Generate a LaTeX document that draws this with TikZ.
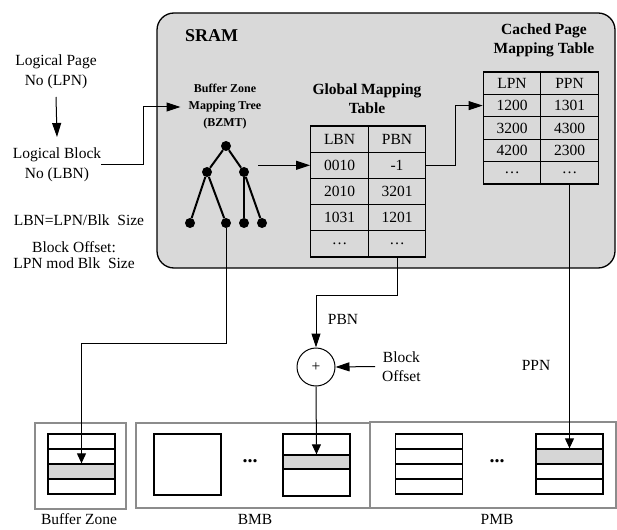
\documentclass[tikz,border=0pt]{standalone}
\usepackage{fontspec}
\setmainfont{Liberation Serif}
\usetikzlibrary{arrows.meta}
\definecolor{sramfill}{HTML}{D9D9D9}
\definecolor{boxgray}{HTML}{8C8C8C}
\definecolor{cellgray}{HTML}{D6D6D6}
\begin{document}
\begin{tikzpicture}[x=1pt,y=-1pt,
  txt/.style={font=\fontsize{15.5}{20}\selectfont, inner sep=0pt, align=center},
  hdr/.style={font=\fontsize{15.5}{19}\selectfont\bfseries, inner sep=0pt, align=center},
  smallhdr/.style={font=\fontsize{12}{17}\selectfont\bfseries, inner sep=0pt, align=center},
  bigarrow/.style={-{Triangle[length=14pt,width=9pt]}, line width=1pt},
  smallarrow/.style={-{Triangle[length=10pt,width=9pt]}, line width=1pt},
  branch/.style={line width=2pt},
  treedot/.style={circle, fill=black, inner sep=0pt, minimum size=10pt},
  gcell/.style={draw, line width=1.3pt, inner sep=0pt, minimum width=57.5pt, minimum height=26.2pt, font=\fontsize{15.5}{18}\selectfont},
  ccell/.style={draw, line width=1.3pt, inner sep=0pt, minimum width=57.5pt, minimum height=22.4pt, font=\fontsize{15.5}{18}\selectfont},
  outerbox/.style={draw=boxgray, line width=1.3pt, inner sep=0pt},
  slot/.style={draw, line width=1.3pt, inner sep=0pt, minimum width=67pt, minimum height=15pt},
  blk/.style={draw, line width=1.3pt, inner sep=0pt, minimum width=67pt},
  ellip/.style={font=\fontsize{20}{20}\selectfont\bfseries, inner sep=0pt},
]
\useasboundingbox (0,0) rectangle (617,529);

% SRAM region
\draw[fill=sramfill, line width=1.3pt, rounded corners=17pt] (157,13) rectangle (615,268);
\node[font=\fontsize{18}{20}\selectfont\bfseries, anchor=west, inner sep=0pt] (sram) at (185,36) {SRAM};

% address translation notes on the left
\node[txt] (lpn) at (56,72) {Logical Page\\No (LPN)};
\node[txt] (lbn) at (57,164.5) {Logical Block\\No (LBN)};
\node[txt] (lbnform) at (79,220) {LBN=LPN/Blk~ Size};
\node[txt, font=\fontsize{15.5}{16}\selectfont] (offform) at (74,255) {Block Offset:\\LPN mod Blk~ Size};
\draw[bigarrow] (lpn.south |- 0,97) -- (lbn.north |- 0,137);

% buffer zone mapping tree
\node[smallhdr] (bzmt) at (225,107) {Buffer Zone\\Mapping Tree\\(BZMT)};
\node[treedot] (root) at (226,146) {};
\node[treedot] (lc) at (207,172) {};
\node[treedot] (rc) at (244,172) {};
\node[treedot] (l1) at (190,223) {};
\node[treedot] (l2) at (226,223) {};
\node[treedot] (l3) at (244,223) {};
\node[treedot] (l4) at (262,223) {};
\draw[branch] (root) -- (lc);
\draw[branch] (root) -- (rc);
\draw[branch] (lc) -- (l1);
\draw[branch] (lc) -- (l2);
\draw[branch] (rc) -- (l3);
\draw[branch] (rc) -- (l4);
\draw[bigarrow] (lbn.east) -- (143,164.5) -- (143,107) -- ([xshift=-8pt]bzmt.west);

% global mapping table
\node[hdr] (gtitle) at (367,99) {Global Mapping\\Table};
\node[gcell] (g11) at (339.5,139.1) {LBN};
\node[gcell] (g12) at (397,139.1) {PBN};
\node[gcell] (g21) at (339.5,165.3) {0010};
\node[gcell] (g22) at (397,165.3) {-1};
\node[gcell] (g31) at (339.5,191.5) {2010};
\node[gcell] (g32) at (397,191.5) {3201};
\node[gcell] (g41) at (339.5,217.7) {1031};
\node[gcell] (g42) at (397,217.7) {1201};
\node[gcell] (g51) at (339.5,243.9) {\dots};
\node[gcell] (g52) at (397,243.9) {\dots};
\draw[bigarrow] ([xshift=9pt]rc.east |- g21.west) -- (g21.west);

% cached page mapping table
\node[hdr] (ctitle) at (544,40) {Cached Page\\Mapping Table};
\node[ccell] (c11) at (512,83.2) {LPN};
\node[ccell] (c12) at (569.5,83.2) {PPN};
\node[ccell] (c21) at (512,105.6) {1200};
\node[ccell] (c22) at (569.5,105.6) {1301};
\node[ccell] (c31) at (512,128) {3200};
\node[ccell] (c32) at (569.5,128) {4300};
\node[ccell] (c41) at (512,150.4) {4200};
\node[ccell] (c42) at (569.5,150.4) {2300};
\node[ccell] (c51) at (512,172.8) {\dots};
\node[ccell] (c52) at (569.5,172.8) {\dots};
\draw[bigarrow] (g22.east) -- ++(29,0) |- (c21.west);

% block offset adder
\node[circle, draw, line width=1pt, minimum size=38pt, inner sep=0pt, font=\fontsize{15.5}{18}\selectfont] (plus) at (316,367) {+};
\node[txt, font=\fontsize{15.5}{19}\selectfont, anchor=west] (boff) at (382,366.5) {Block\\Offset};
\node[txt] (pbnlbl) at (343,319) {PBN};
\node[txt] (ppnlbl) at (536,365) {PPN};
\draw[bigarrow] (g52.south) -- ++(0,38) -| (plus.north);
\draw[bigarrow] ([xshift=-7pt]boff.west) -- (plus.east);

% flash regions
\node[outerbox, minimum width=91pt, minimum height=86pt] (bzbox) at (80.5,466) {};
\node[outerbox, minimum width=234pt, minimum height=85pt] (bmbbox) at (253,465.5) {};
\node[outerbox, minimum width=246pt, minimum height=86pt] (pmbbox) at (493,465) {};

% buffer zone block
\node[slot] (bz1) at (81.5,441.5) {};
\node[slot] (bz2) at (81.5,456.5) {};
\node[slot, fill=cellgray] (bzg) at (81.5,471.5) {};
\node[slot] (bz4) at (81.5,486.5) {};

% block-mapped blocks
\node[blk, minimum height=61pt] (bmbl) at (187.5,464.5) {};
\node[ellip] (bmbdots) at (250,461) {...};
\node[blk, minimum height=21pt] (bmbt) at (316.5,444.5) {};
\node[blk, minimum height=14pt, fill=cellgray] (bmbg) at (316.5,462) {};
\node[blk, minimum height=27pt] (bmbb) at (316.5,482.5) {};

% page-mapped blocks
\node[slot] (pl1) at (429,441.5) {};
\node[slot] (pl2) at (429,456.5) {};
\node[slot] (pl3) at (429,471.5) {};
\node[slot] (pl4) at (429,486.5) {};
\node[ellip] (pmbdots) at (497,461) {...};
\node[slot] (pr1) at (569.5,441.5) {};
\node[slot, fill=cellgray] (prg) at (569.5,456.5) {};
\node[slot] (pr3) at (569.5,471.5) {};
\node[slot] (pr4) at (569.5,486.5) {};

% region labels
\node[txt] (bzlbl) at (79,519.5) {Buffer Zone};
\node[txt] (bmblbl) at (255,519.5) {BMB};
\node[txt] (pmblbl) at (497,519.5) {PMB};

% lookups into flash
\draw[smallarrow] (l2.south) -- ++(0,115) -| (bzg.north);
\draw[smallarrow] (plus.south) -- (bmbg.north);
\draw[smallarrow] (c52.south) -- (prg.north);
\end{tikzpicture}
\end{document}
